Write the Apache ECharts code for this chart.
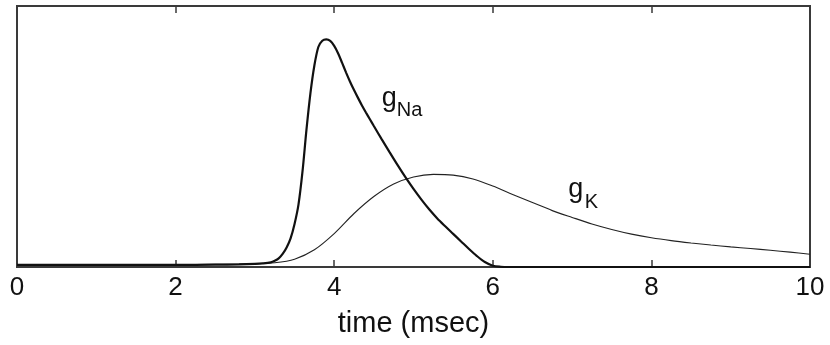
<!DOCTYPE html>
<html>
<head>
<meta charset="utf-8">
<script src="https://cdn.jsdelivr.net/npm/echarts@6/dist/echarts.min.js"></script>
<style>
html,body{margin:0;padding:0;background:#fff;}
#chart{width:830px;height:345px;}
</style>
</head>
<body>
<div id="chart"></div>
<script>
// time axis ticks
const xTicks = [0, 2, 4, 6, 8, 10];

// g_Na (sodium conductance)
const naTime = [0, 0.5, 1, 1.5, 2, 2.5, 2.8, 3.0, 3.1, 3.2, 3.25, 3.3, 3.35, 3.4, 3.45, 3.5, 3.55, 3.6, 3.65, 3.7, 3.75, 3.8, 3.85, 3.9, 3.95, 4.0, 4.05, 4.1, 4.15, 4.2, 4.25, 4.3, 4.35, 4.4, 4.45, 4.5, 4.6, 4.7, 4.8, 4.9, 5.0, 5.1, 5.2, 5.3, 5.4, 5.5, 5.6, 5.7, 5.8, 5.9, 6.0, 6.1, 6.2, 6.5, 7, 7.5, 8, 8.5, 9, 9.5, 10];
const naValue = [0.008, 0.008, 0.008, 0.008, 0.008, 0.009, 0.01, 0.012, 0.014, 0.018, 0.024, 0.033, 0.05, 0.075, 0.11, 0.165, 0.24, 0.365, 0.525, 0.665, 0.772, 0.843, 0.867, 0.872, 0.866, 0.847, 0.818, 0.782, 0.745, 0.71, 0.678, 0.648, 0.619, 0.592, 0.566, 0.54, 0.489, 0.439, 0.39, 0.343, 0.299, 0.258, 0.22, 0.186, 0.156, 0.127, 0.098, 0.069, 0.042, 0.019, 0.005, 0.001, 0, 0, 0, 0, 0, 0, 0, 0, 0];

// g_K (potassium conductance)
const kTime = [0, 0.5, 1, 1.5, 2, 2.5, 3.0, 3.25, 3.5, 3.75, 4.0, 4.25, 4.5, 4.75, 5.0, 5.25, 5.5, 5.75, 6.0, 6.25, 6.5, 6.75, 7.0, 7.25, 7.5, 7.75, 8.0, 8.25, 8.5, 8.75, 9.0, 9.25, 9.5, 9.75, 10];
const kValue = [0.008, 0.008, 0.008, 0.009, 0.009, 0.01, 0.012, 0.016, 0.03, 0.066, 0.128, 0.205, 0.27, 0.318, 0.345, 0.355, 0.352, 0.337, 0.31, 0.278, 0.247, 0.216, 0.19, 0.165, 0.144, 0.126, 0.112, 0.101, 0.092, 0.084, 0.077, 0.071, 0.064, 0.057, 0.049];

// label anchors in data coordinates [time, value]
const labelNaG = [4.6, 0.595];
const labelNaSub = [4.79, 0.56];
const labelKG = [6.95, 0.245];
const labelKSub = [7.16, 0.21];

const chart = echarts.init(document.getElementById('chart'), null, {renderer: 'canvas'});
const FONT = '"Liberation Sans", Arial, Helvetica, sans-serif';
const frameColor = '#3a3a3a';

function zip(a, b) { return a.map((v, i) => [v, b[i]]); }

const option = {
  animation: false,
  backgroundColor: '#ffffff',
  grid: {left: 17, right: 20, top: 6, bottom: 78, containLabel: false,
    show: true, borderColor: frameColor, borderWidth: 2, backgroundColor: 'transparent'},
  xAxis: [{
    type: 'value', min: 0, max: 10, interval: 2, position: 'bottom', gridIndex: 0,
    name: 'time (msec)', nameLocation: 'middle', nameGap: 42,
    nameTextStyle: {fontSize: 29, color: '#111', fontFamily: FONT},
    axisLine: {show: true, lineStyle: {color: frameColor, width: 2}},
    axisTick: {show: true, inside: true, length: 7, lineStyle: {color: frameColor, width: 1.5}},
    axisLabel: {show: true, fontSize: 26, color: '#111', fontFamily: FONT, margin: 8,
      formatter: v => xTicks.indexOf(v) >= 0 ? String(v) : ''},
    splitLine: {show: false}
  }, {
    type: 'value', min: 0, max: 10, interval: 2, position: 'top', gridIndex: 0, show: true,
    axisLine: {show: true, onZero: false, lineStyle: {color: frameColor, width: 2}},
    axisTick: {show: true, inside: true, length: 7, lineStyle: {color: frameColor, width: 1.5}},
    axisLabel: {show: false},
    splitLine: {show: false}
  }],
  yAxis: [{
    type: 'value', min: 0, max: 1, position: 'left', gridIndex: 0,
    axisLine: {show: true, lineStyle: {color: frameColor, width: 2}},
    axisTick: {show: false}, axisLabel: {show: false}, splitLine: {show: false}
  }, {
    type: 'value', min: 0, max: 1, position: 'right', gridIndex: 0, show: true,
    axisLine: {show: true, onZero: false, lineStyle: {color: frameColor, width: 2}},
    axisTick: {show: false}, axisLabel: {show: false}, splitLine: {show: false}
  }],
  series: [{
    name: 'gK', type: 'line', xAxisIndex: 0, yAxisIndex: 0,
    data: zip(kTime, kValue), showSymbol: false, smooth: 0.3,
    lineStyle: {color: '#222', width: 1.1}, z: 3
  }, {
    name: 'gNa', type: 'line', xAxisIndex: 0, yAxisIndex: 0,
    data: zip(naTime, naValue), showSymbol: false, smooth: 0.3,
    lineStyle: {color: '#111', width: 2.2}, z: 4
  }, {
    name: 'frame', type: 'line', xAxisIndex: 1, yAxisIndex: 1,
    data: [[0, 0], [10, 0]], showSymbol: false, silent: true,
    lineStyle: {opacity: 0}
  }]
};
chart.setOption(option);

function px(p) { return chart.convertToPixel({xAxisIndex: 0, yAxisIndex: 0}, p); }
function txt(p, s, size) {
  const q = px(p);
  return {type: 'text', x: q[0], y: q[1],
    style: {text: s, fontSize: size, fontFamily: FONT, fill: '#111', align: 'left', verticalAlign: 'bottom'}};
}
chart.setOption({graphic: [
  txt(labelNaG, 'g', 27), txt(labelNaSub, 'Na', 20),
  txt(labelKG, 'g', 27), txt(labelKSub, 'K', 20)
]});
</script>
</body>
</html>
